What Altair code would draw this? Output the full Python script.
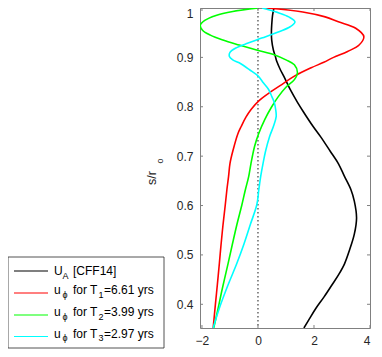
import altair as alt
import pandas as pd

FONT = "Liberation Sans"

# ---- data ----
s_black = [1.0, 0.985, 0.965, 0.952, 0.935, 0.915, 0.902, 0.892, 0.875, 0.862, 0.835, 0.81, 0.79,
           0.76, 0.739, 0.71, 0.685, 0.66, 0.632, 0.609, 0.575, 0.542, 0.51, 0.482, 0.46, 0.439,
           0.415, 0.392, 0.37, 0.352]
x_black = [0.57, 0.52, 0.49, 0.48, 0.49, 0.55, 0.62, 0.67, 0.80, 0.92, 1.15, 1.40, 1.62,
           1.97, 2.24, 2.58, 2.87, 3.08, 3.32, 3.44, 3.52, 3.44, 3.27, 3.09, 2.88, 2.64,
           2.36, 2.07, 1.83, 1.64]

s_red = [1.0, 0.992, 0.982, 0.972, 0.959, 0.942, 0.925, 0.912, 0.9, 0.89, 0.879, 0.862, 0.845,
         0.83, 0.812, 0.795, 0.779, 0.76, 0.745, 0.712, 0.685, 0.659, 0.632, 0.6, 0.56, 0.52,
         0.482, 0.44, 0.4, 0.352]
x_red = [0.3, 1.6, 2.4, 2.87, 3.49, 3.78, 3.61, 3.2, 2.7, 2.35, 1.9, 1.3, 0.85,
         0.45, 0.03, -0.24, -0.43, -0.6, -0.72, -0.89, -1.0, -1.05, -1.11, -1.17, -1.25, -1.32,
         -1.38, -1.45, -1.52, -1.6]

s_green = [1.0, 0.993, 0.985, 0.975, 0.965, 0.955, 0.945, 0.935, 0.925, 0.915, 0.905, 0.895,
           0.885, 0.869, 0.855, 0.839, 0.82, 0.799, 0.775, 0.745, 0.72, 0.685, 0.659, 0.632,
           0.6, 0.562, 0.52, 0.482, 0.45, 0.425, 0.39, 0.352]
x_green = [0.0, -0.9, -1.5, -1.9, -2.06, -1.98, -1.7, -1.25, -0.67, -0.05, 0.6, 1.0,
           1.3, 1.41, 1.3, 0.99, 0.72, 0.48, 0.25, 0.02, -0.12, -0.25, -0.33, -0.45,
           -0.58, -0.75, -0.92, -1.07, -1.2, -1.3, -1.43, -1.58]

s_cyan = [1.0, 0.99, 0.982, 0.972, 0.962, 0.952, 0.939, 0.929, 0.919, 0.91, 0.902, 0.895,
          0.889, 0.875, 0.862, 0.848, 0.835, 0.82, 0.809, 0.795, 0.78, 0.76, 0.739, 0.71,
          0.685, 0.66, 0.632, 0.602, 0.562, 0.522, 0.482, 0.439, 0.392, 0.352]
x_cyan = [0.15, 0.75, 1.1, 1.32, 1.15, 0.75, 0.13, -0.35, -0.79, -1.0, -1.02, -0.9,
          -0.67, -0.3, 0.01, 0.2, 0.38, 0.5, 0.58, 0.63, 0.65, 0.55, 0.41, 0.27,
          0.18, 0.1, 0.03, -0.04, -0.27, -0.5, -0.76, -1.07, -1.38, -1.6]

series_names = ["UA", "T1", "T2", "T3"]
series_colors = ["#000000", "#ff0000", "#00ff00", "#00ffff"]

x_ticks = [-2, 0, 2, 4]
y_ticks = [0.4, 0.5, 0.6, 0.7, 0.8, 0.9, 1.0]
zero_line = [0]

legend_periods = ["6.61", "3.99", "2.97"]

# ---- build table ----
rows = []
for name, ss, xs in zip(series_names, [s_black, s_red, s_green, s_cyan],
                        [x_black, x_red, x_green, x_cyan]):
    for i, (s, x) in enumerate(zip(ss, xs)):
        rows.append({"series": name, "s": s, "x": x, "i": i})
df = pd.DataFrame(rows)

W, H = 170, 320
AX = "#808080"
LAB = "#262626"

xscale = alt.Scale(domain=[-2.07, 4], nice=False, zero=False)
yscale = alt.Scale(domain=[0.352, 1.0], nice=False, zero=False)
xaxis = alt.Axis(values=x_ticks, grid=False, ticks=False, domain=False, title=None,
                 labelFont=FONT, labelFontSize=12, labelColor=LAB, labelPadding=7,
                 format="d")
yaxis = alt.Axis(values=y_ticks, grid=False, ticks=False, domain=False, title=None,
                 labelFont=FONT, labelFontSize=12, labelColor=LAB, labelPadding=7,
                 labelOffset={"expr": "datum.value == 1 ? 5 : 0"},
                 labelExpr="datum.value == 1 ? '1' : format(datum.value, '.1f')")

curves = alt.Chart(df).mark_line(strokeWidth=1.6, clip=True, interpolate="catmull-rom").encode(
    x=alt.X("x:Q", scale=xscale, axis=xaxis),
    y=alt.Y("s:Q", scale=yscale, axis=yaxis),
    color=alt.Color("series:N", scale=alt.Scale(domain=series_names, range=series_colors),
                    legend=None),
    order=alt.Order("i:Q"),
)

zero_df = pd.DataFrame({"x": zero_line})
zero_rule = alt.Chart(zero_df).mark_rule(strokeDash=[1.5, 2.5], color="#404040",
                                         strokeWidth=1.2).encode(
    x=alt.X("x:Q", scale=xscale, axis=xaxis))

yt_df = pd.DataFrame({"s": y_ticks})
xt_df = pd.DataFrame({"x": x_ticks})
ytick_l = alt.Chart(yt_df).mark_rule(color=AX).encode(
    y=alt.Y("s:Q", scale=yscale, axis=yaxis), x=alt.value(0), x2=alt.value(3))
ytick_r = alt.Chart(yt_df).mark_rule(color=AX).encode(
    y=alt.Y("s:Q", scale=yscale, axis=yaxis), x=alt.value(W - 3), x2=alt.value(W))
xtick_b = alt.Chart(xt_df).mark_rule(color=AX).encode(
    x=alt.X("x:Q", scale=xscale, axis=xaxis), y=alt.value(H - 3), y2=alt.value(H))
xtick_t = alt.Chart(xt_df).mark_rule(color=AX).encode(
    x=alt.X("x:Q", scale=xscale, axis=xaxis), y=alt.value(0), y2=alt.value(3))

ONE = alt.Data(values=[{}])


def txt(t, x, y, size=12, angle=0, align="left", baseline="alphabetic", color="#000000"):
    return alt.Chart(ONE).mark_text(text=t, font=FONT, fontSize=size, angle=angle,
                                    align=align, baseline=baseline, color=color).encode(
        x=alt.value(x), y=alt.value(y))


# y axis title s/r_o
deco = [
    txt("s/r", -48, 170, size=12.5, angle=270, align="center", baseline="middle", color=LAB),
    txt("o", -40, 153, size=9, angle=270, align="center", baseline="middle", color=LAB),
]

# legend box
box = alt.Chart(ONE).mark_rect(fill="white", stroke="#262626", strokeWidth=0.8).encode(
    x=alt.value(-192), x2=alt.value(-36), y=alt.value(249), y2=alt.value(340))
deco.append(box)

row_y = [263, 285, 307, 328.5]
for k, (ry, col) in enumerate(zip(row_y, series_colors)):
    deco.append(alt.Chart(ONE).mark_rule(color=col, strokeWidth=1.2).encode(
        x=alt.value(-186), x2=alt.value(-152), y=alt.value(ry)))
    if k == 0:
        deco.append(txt("U", -146, ry + 4.3))
        deco.append(txt("A", -137.5, ry + 8, size=9))
        deco.append(txt("[CFF14]", -127, ry + 4.3))
    else:
        deco.append(txt("u", -146, ry + 1.2))
        deco.append(txt("ϕ", -137.5, ry + 4.5, size=9))
        deco.append(txt("for T", -127, ry + 1.2))
        deco.append(txt(str(k), -101.5, ry + 4.5, size=9))
        deco.append(txt("=" + legend_periods[k - 1] + " yrs", -96, ry + 1.2))

chart = alt.layer(
    zero_rule, curves, ytick_l, ytick_r, xtick_b, xtick_t, *deco
).properties(
    width=W, height=H,
    padding={"left": 192, "top": 0, "right": 4, "bottom": 21},
    autosize=alt.AutoSizeParams(type="none"),
).configure_view(stroke=AX, strokeWidth=1)

chart.save("out.html", embed_options={"renderer": "svg", "actions": False})
